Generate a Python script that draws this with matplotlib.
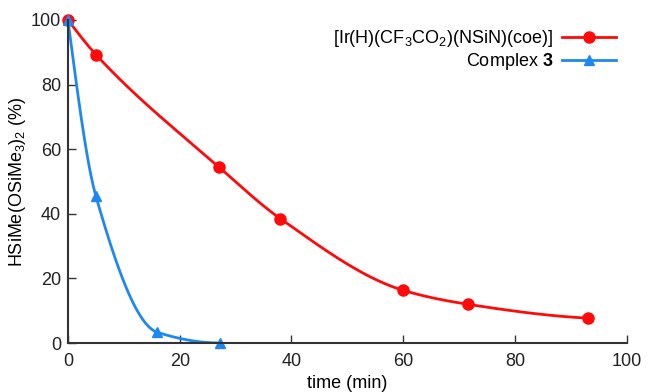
import numpy as np
import matplotlib
matplotlib.use('Agg')
from matplotlib import pyplot as plt

plt.rcParams.update({'font.family': 'Liberation Sans', 'font.size': 13,
                     'mathtext.fontset': 'custom', 'mathtext.rm': 'Liberation Sans',
                     'mathtext.bf': 'Liberation Sans:bold', 'mathtext.it': 'Liberation Sans:italic'})

# data
time_ir = [0, 5, 27, 38, 60, 71.5, 93]
hsi_ir = [100, 89.3, 54.5, 38.5, 16.3, 12.0, 7.7]
time_c3 = [0, 5, 16, 27.2]
hsi_c3 = [100, 45.5, 3.3, 0]


def pchip(x, y, xs):
    # monotone cubic interpolation for the smooth connecting line
    x = np.asarray(x, float)
    y = np.asarray(y, float)
    h = np.diff(x)
    d = np.diff(y) / h
    m = np.zeros_like(y)
    for k in range(1, len(x) - 1):
        if d[k - 1] * d[k] > 0:
            w1 = 2 * h[k] + h[k - 1]
            w2 = h[k] + 2 * h[k - 1]
            m[k] = (w1 + w2) / (w1 / d[k - 1] + w2 / d[k])
    m[0] = ((2 * h[0] + h[1]) * d[0] - h[0] * d[1]) / (h[0] + h[1])
    if np.sign(m[0]) != np.sign(d[0]):
        m[0] = 0
    m[-1] = ((2 * h[-1] + h[-2]) * d[-1] - h[-1] * d[-2]) / (h[-1] + h[-2])
    if np.sign(m[-1]) != np.sign(d[-1]):
        m[-1] = 0
    idx = np.clip(np.searchsorted(x, xs) - 1, 0, len(x) - 2)
    t = (xs - x[idx]) / h[idx]
    h00 = 2 * t**3 - 3 * t**2 + 1
    h10 = t**3 - 2 * t**2 + t
    h01 = -2 * t**3 + 3 * t**2
    h11 = t**3 - t**2
    return h00 * y[idx] + h10 * h[idx] * m[idx] + h01 * y[idx + 1] + h11 * h[idx] * m[idx + 1]


red = '#ff0a0a'
blue = '#1f88f0'

fig = plt.figure(figsize=(6.53, 3.92), dpi=100)
ax = fig.add_axes([0.104, 0.125, 0.856, 0.824])

xs = np.linspace(time_ir[0], time_ir[-1], 300)
ax.plot(xs, pchip(time_ir, hsi_ir, xs), c=red, lw=2)
ax.plot(time_ir, hsi_ir, c=red, marker='o', ms=8, linestyle='none', clip_on=False)
ax.plot([], [], c=red, lw=2, marker='o', ms=8, label='[Ir(H)(CF$_3$CO$_2$)(NSiN)(coe)]')

xs = np.linspace(time_c3[0], time_c3[-1], 300)
ax.plot(xs, pchip(time_c3, hsi_c3, xs), c=blue, lw=2)
ax.plot(time_c3, hsi_c3, c=blue, marker='^', ms=7, linestyle='none', clip_on=False)
ax.plot([], [], c=blue, lw=2, marker='^', ms=7, label=r'Complex $\mathbf{3}$')

ax.set_xlim(0, 100)
ax.set_ylim(0, 100)
ax.set_xticks(np.arange(0, 101, 20))
ax.set_yticks(np.arange(0, 101, 20))
ax.tick_params(direction='in', length=6, width=1, colors='#333333', labelcolor='#222222', labelsize=13)
ax.tick_params(axis='x', pad=7)
ax.tick_params(axis='y', pad=5)
for s in ['top', 'right']:
    ax.spines[s].set_visible(False)
for s in ['left', 'bottom']:
    ax.spines[s].set_color('#333333')
    ax.spines[s].set_linewidth(1.5)

ax.set_xlabel('time (min)', fontsize=13, labelpad=4)
ax.set_ylabel('HSiMe(OSiMe$_3$)$_2$ (%)', fontsize=13, labelpad=2)

ax.legend(loc='upper right', bbox_to_anchor=(1.01, 1.025), frameon=False, markerfirst=False,
          handlelength=3.0, handletextpad=0.5, labelspacing=0.1, fontsize=13)

plt.savefig('out.png', dpi=100)
plt.close()
